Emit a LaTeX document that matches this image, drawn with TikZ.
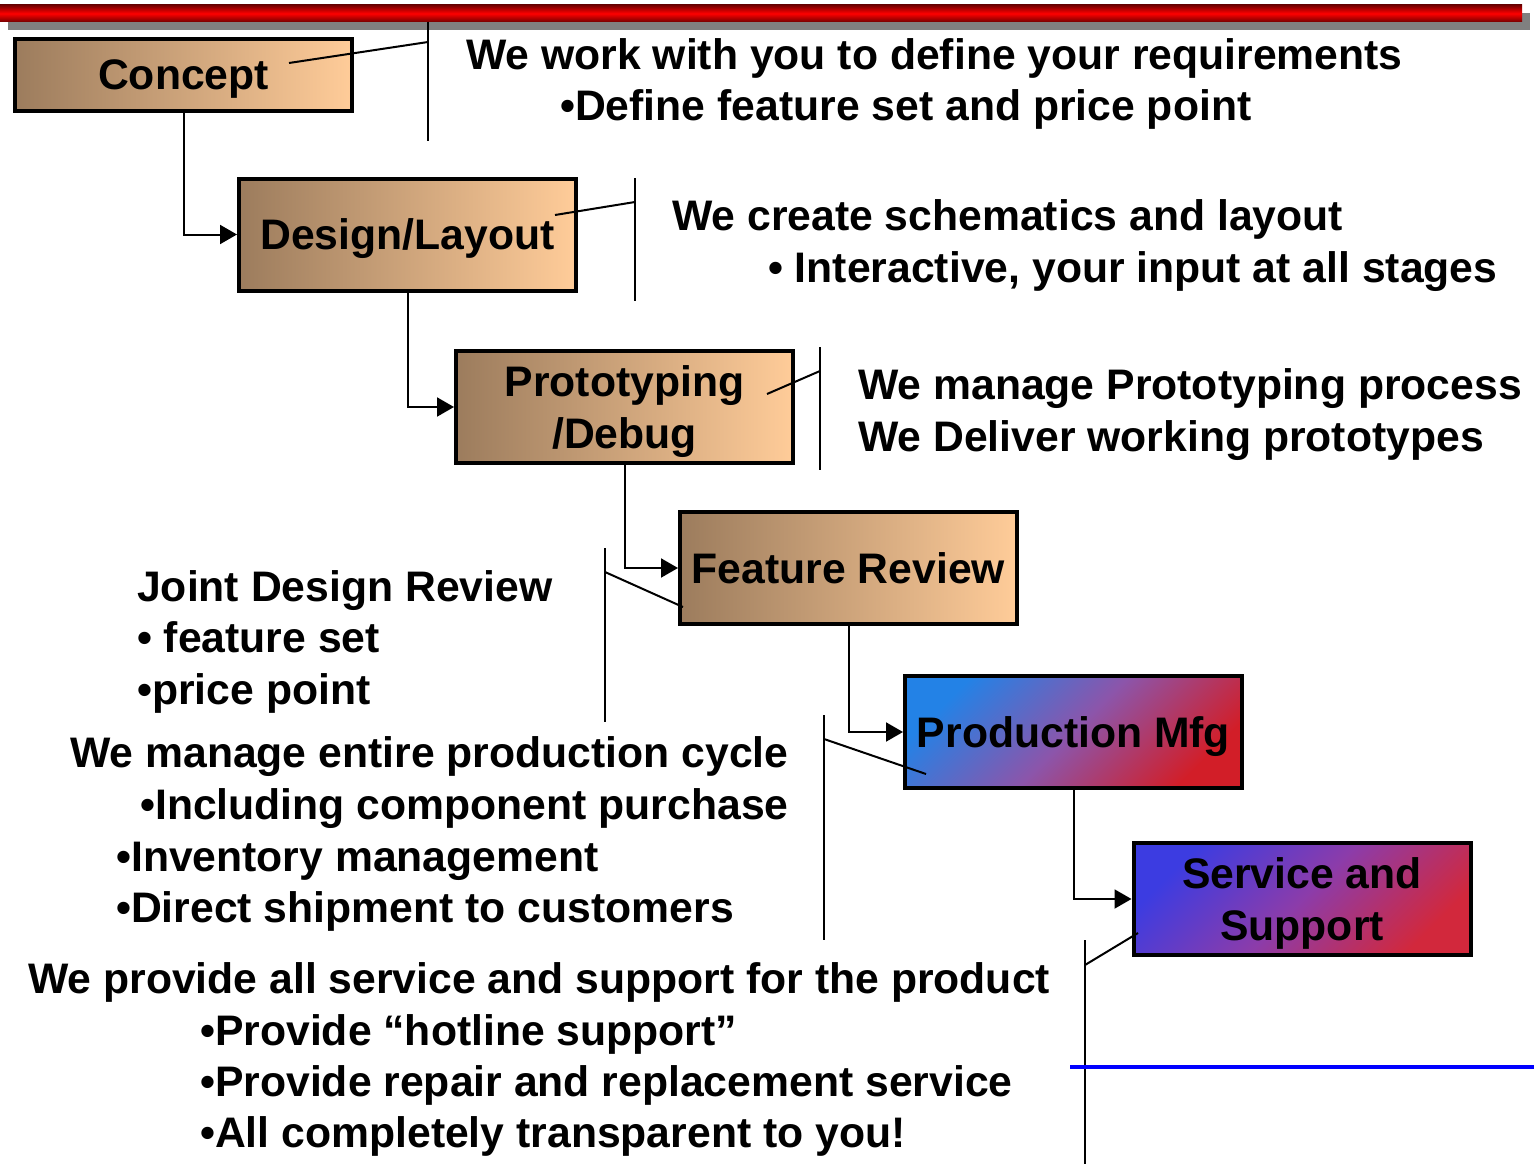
\documentclass[tikz,border=0pt]{standalone}
\usepackage{fontspec}
\setmainfont{Liberation Sans}
\usetikzlibrary{arrows.meta}
\begin{document}
\begin{tikzpicture}[x=1pt,y=-1pt,
        stagebox/.style={draw=black, line width=4pt, minimum width=337pt, minimum height=112pt,
            inner sep=0pt, align=center, text depth=0pt, font=\fontsize{42.7}{52}\selectfont\bfseries},
        tanfill/.style={left color={rgb,255:red,156;green,124;blue,93}, right color={rgb,255:red,255;green,204;blue,153}},
        mfgfill/.style={left color={rgb,255:red,35;green,130;blue,230}, right color={rgb,255:red,210;green,30;blue,40},
            middle color={rgb,255:red,140;green,85;blue,170}, shading angle=45},
        srvfill/.style={left color={rgb,255:red,60;green,60;blue,225}, right color={rgb,255:red,210;green,40;blue,60},
            middle color={rgb,255:red,140;green,60;blue,170}, shading angle=45},
        flow/.style={line width=2pt, -{Triangle[length=17pt,width=19pt]}},
        callout/.style={line width=2pt},
        note/.style={anchor=base west, inner sep=0pt, font=\fontsize{42.7}{52}\selectfont\bfseries}]
                \useasboundingbox (0,0) rectangle (1534,1164);
                \fill[gray] (8,13) rectangle (1530,30);
                \shade[top color=red!45!black, bottom color=red!45!black, middle color=red] (0,5) rectangle (1522,22);

                \node[stagebox, tanfill, minimum height=72pt] (concept) at (183.5,75) {Concept};
                \node[stagebox, tanfill] (design) at (407.5,234.5) {Design/Layout};
                \node[stagebox, tanfill] (proto) at (624.5,407) {Prototyping\\/Debug};
                \node[stagebox, tanfill] (feature) at (848.5,568) {Feature Review};
                \node[stagebox, mfgfill] (mfg) at (1073.5,732) {Production Mfg};
                \node[stagebox, srvfill] (service) at (1302,899) {Service and\\Support};

                \draw[flow] (concept.south) |- (design.west);
                \draw[flow] (design.south) |- (proto.west);
                \draw[flow] (proto.south) |- (feature.west);
                \draw[flow] (feature.south) |- (mfg.west);
                \draw[flow] (mfg.south) |- (service.west);

                \coordinate (conceptTop) at (428,22);
                \coordinate (conceptBot) at (428,141);
                \coordinate (conceptKnee) at (428,42);
                \coordinate (conceptTip) at (289,63);
                \draw[callout] (conceptTop) -- (conceptBot);
                \draw[callout] (conceptKnee) -- (conceptTip);

                \coordinate (designTop) at (635,178);
                \coordinate (designBot) at (635,301);
                \coordinate (designKnee) at (635,202);
                \coordinate (designTip) at (555,215);
                \draw[callout] (designTop) -- (designBot);
                \draw[callout] (designKnee) -- (designTip);

                \coordinate (protoTop) at (820,347);
                \coordinate (protoBot) at (820,470);
                \coordinate (protoKnee) at (820,371);
                \coordinate (protoTip) at (767,394);
                \draw[callout] (protoTop) -- (protoBot);
                \draw[callout] (protoKnee) -- (protoTip);

                \coordinate (featureTop) at (605,548);
                \coordinate (featureBot) at (605,722);
                \coordinate (featureKnee) at (605,572);
                \coordinate (featureTip) at (683,607);
                \draw[callout] (featureTop) -- (featureBot);
                \draw[callout] (featureKnee) -- (featureTip);

                \coordinate (mfgTop) at (824,715);
                \coordinate (mfgBot) at (824,940);
                \coordinate (mfgKnee) at (824,739);
                \coordinate (mfgTip) at (926,774);
                \draw[callout] (mfgTop) -- (mfgBot);
                \draw[callout] (mfgKnee) -- (mfgTip);

                \coordinate (serviceTop) at (1085,940);
                \coordinate (serviceBot) at (1085,1164);
                \coordinate (serviceKnee) at (1085,965);
                \coordinate (serviceTip) at (1138,933);
                \draw[callout] (serviceTop) -- (serviceBot);
                \draw[callout] (serviceKnee) -- (serviceTip);

                \coordinate (ruleL) at (1070,1067);
                \coordinate (ruleR) at (1534,1067);
                \draw[blue, line width=4pt] (ruleL) -- (ruleR);

                \node[note] (req) at (466,70) {We work with you to define your requirements};
                \node[note] (feat) at (560,121) {•Define feature set and price point};
                \node[note] (schem) at (672,230) {We create schematics and layout};
                \node[note] (inter) at (768,282) {• Interactive, your input at all stages};
                \node[note] (manage) at (858,399) {We manage Prototyping process};
                \node[note] (deliver) at (858,451) {We Deliver working prototypes};
                \node[note] (joint) at (137,601) {Joint Design Review};
                \node[note] (fset) at (137,652) {• feature set};
                \node[note] (price) at (137,704) {•price point};
                \node[note] (cycle) at (70,767) {We manage entire production cycle};
                \node[note] (purch) at (140,819) {•Including component purchase};
                \node[note] (invent) at (116,871) {•Inventory management};
                \node[note] (ship) at (116,922) {•Direct shipment to customers};
                \node[note] (provide) at (28,993) {We provide all service and support for the product};
                \node[note] (hotline) at (200,1045) {•Provide “hotline support”};
                \node[note] (repair) at (200,1096) {•Provide repair and replacement service};
                \node[note] (transp) at (200,1147) {•All completely transparent to you!};
            \end{tikzpicture}
\end{document}
